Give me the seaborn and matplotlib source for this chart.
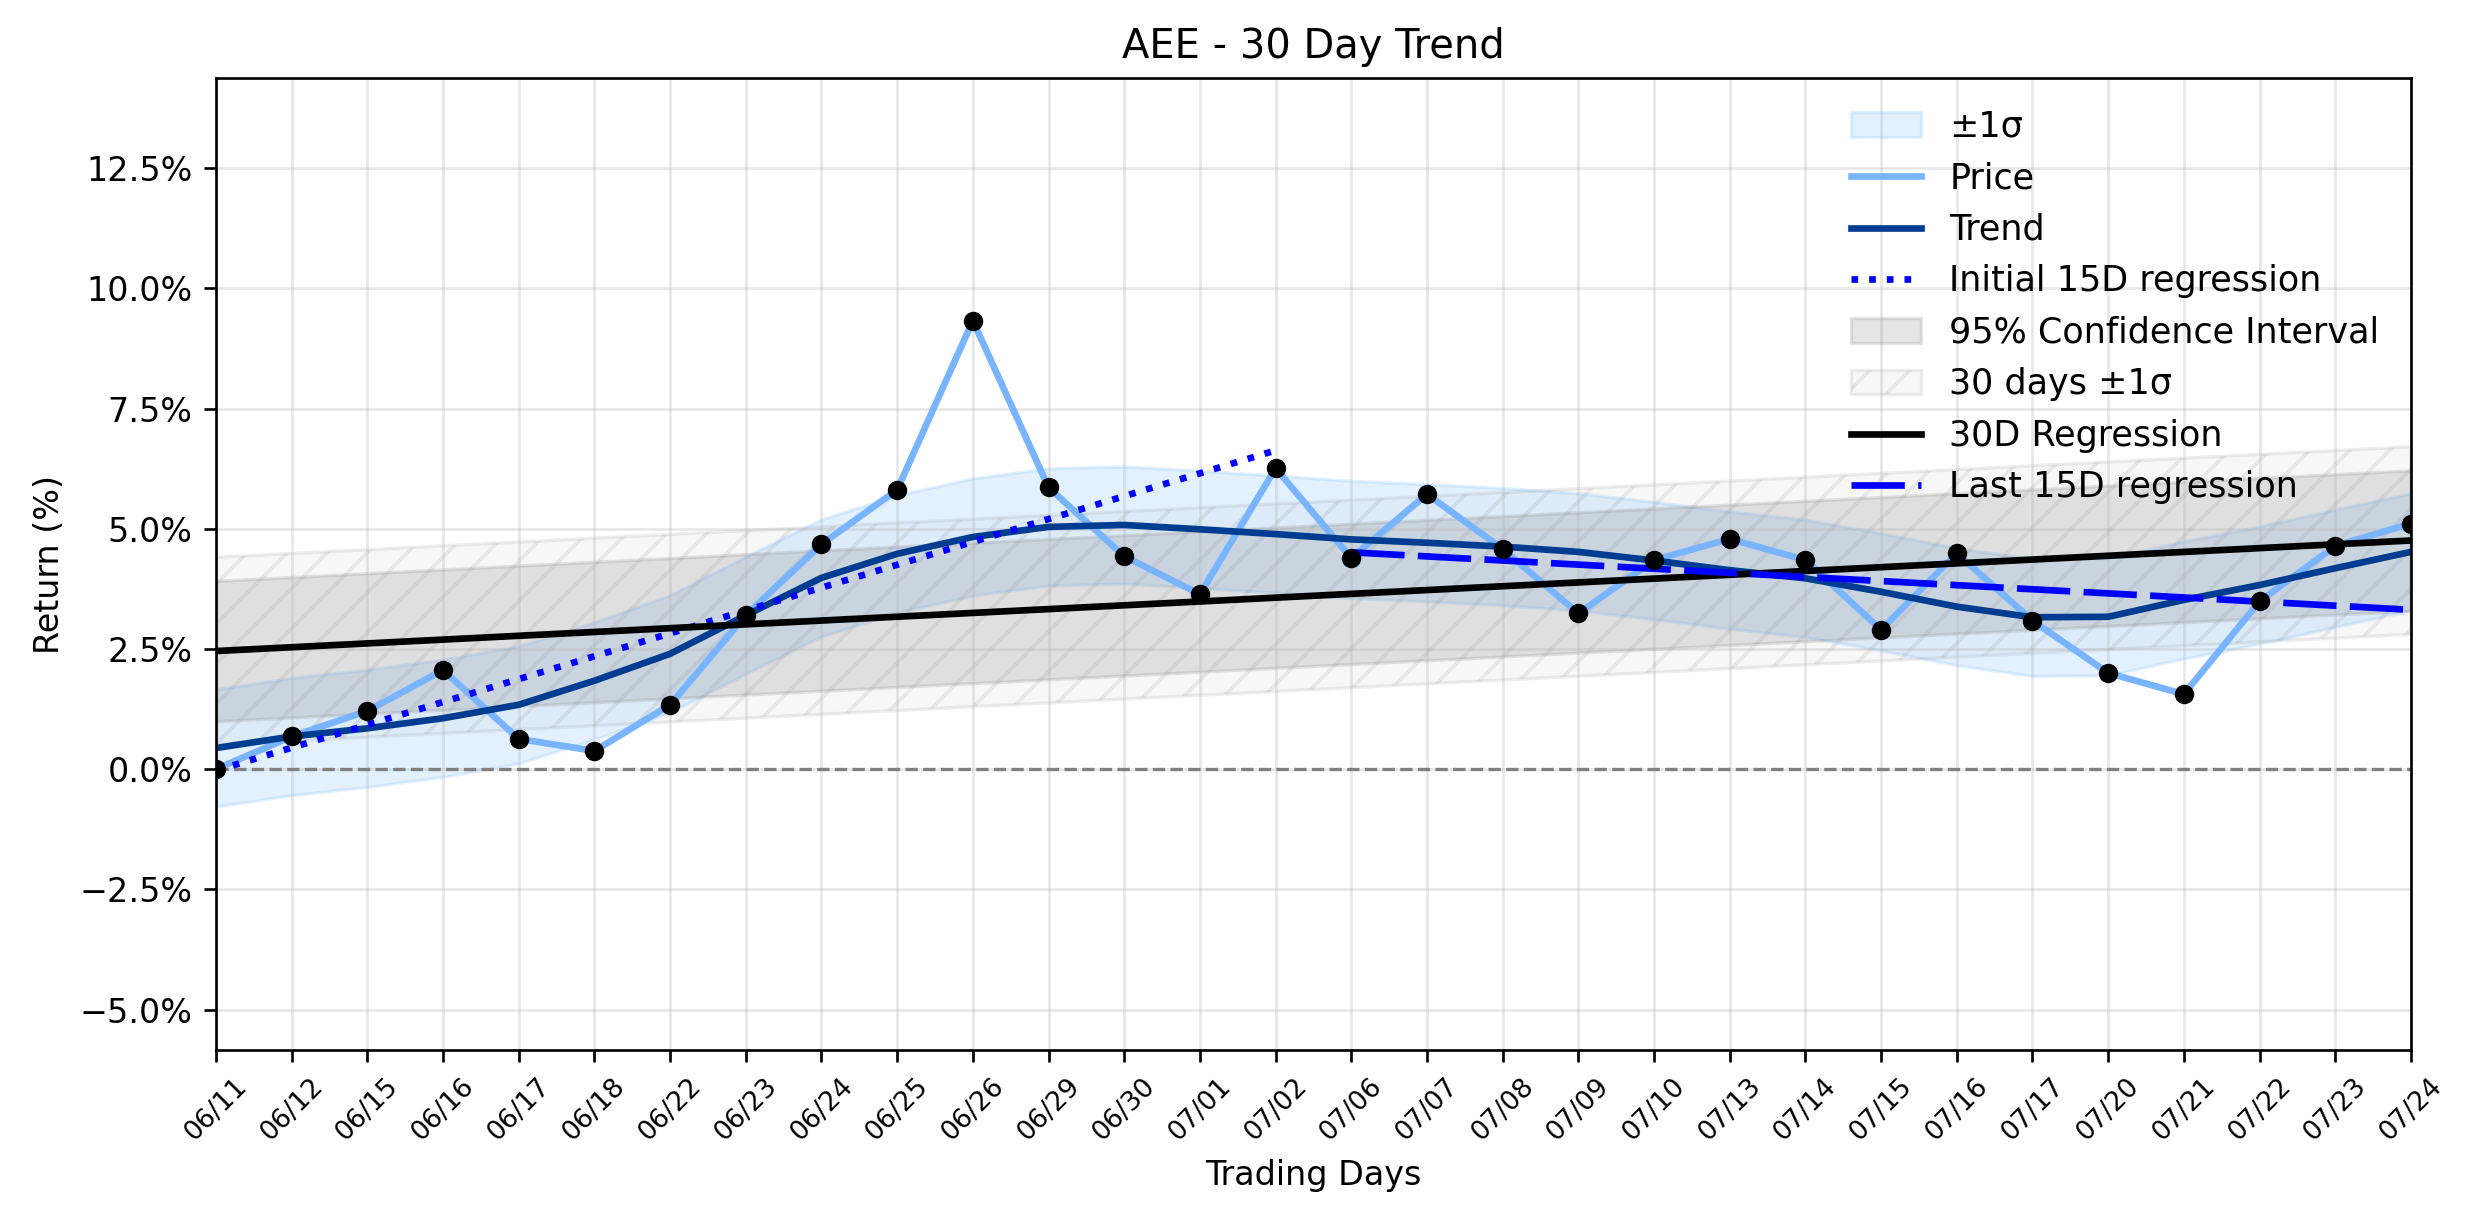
import numpy as np
import pandas as pd
import matplotlib
matplotlib.use("Agg")
import matplotlib.pyplot as plt
import seaborn as sns
from matplotlib.ticker import PercentFormatter, MultipleLocator

# ---------------- data ----------------
dates = ["06/11", "06/12", "06/15", "06/16", "06/17", "06/18", "06/22", "06/23",
         "06/24", "06/25", "06/26", "06/29", "06/30", "07/01", "07/02", "07/06",
         "07/07", "07/08", "07/09", "07/10", "07/13", "07/14", "07/15", "07/16",
         "07/17", "07/20", "07/21", "07/22", "07/23", "07/24"]

price = [0.00, 0.68, 1.21, 2.06, 0.63, 0.38, 1.34, 3.20, 4.68, 5.81,
         9.33, 5.86, 4.43, 3.64, 6.26, 4.39, 5.72, 4.58, 3.24, 4.35,
         4.79, 4.35, 2.90, 4.49, 3.09, 2.00, 1.56, 3.49, 4.64, 5.11]

trend = [0.44, 0.68, 0.85, 1.06, 1.34, 1.84, 2.40, 3.20, 3.98, 4.48,
         4.83, 5.04, 5.08, 4.99, 4.89, 4.78, 4.71, 4.63, 4.52, 4.34,
         4.14, 3.97, 3.69, 3.38, 3.16, 3.17, 3.52, 3.83, 4.18, 4.52]

trend_sigma = 1.22      # half width of the ±1σ band around the trend
sigma_30 = 1.95         # half width of the 30 days ±1σ band
ci_95 = 1.46            # half width of the 95% confidence band

ylim = (-5.84, 14.37)

# ---------------- plot ----------------
df = pd.DataFrame({"day": np.arange(len(dates)), "price": price, "trend": trend})
day = df["day"].to_numpy()
tr = df["trend"].to_numpy()

fig, ax = plt.subplots(figsize=(2474 / 240, 1224 / 240), dpi=240)
fig.subplots_adjust(left=0.0873, right=0.9745, bottom=0.1422, top=0.936)

ax.axhline(0, color="gray", linestyle="--", linewidth=1)

ax.fill_between(day, tr - trend_sigma, tr + trend_sigma, color="#66b2ff",
                alpha=0.18, label="±1σ")
sns.lineplot(data=df, x="day", y="price", color="#78b4ff", linewidth=2,
             label="Price", ax=ax)
sns.lineplot(data=df, x="day", y="trend", color="#003c8f", linewidth=2,
             label="Trend", ax=ax)

first = df.iloc[:15]
c_first = np.polyfit(first["day"], first["price"], 1)
ax.plot(first["day"], np.polyval(c_first, first["day"]), linestyle=":",
        color="blue", linewidth=2, label="Initial 15D regression")

c30 = np.polyfit(day, df["price"], 1)
reg30 = np.polyval(c30, day)
ax.fill_between(day, reg30 - ci_95, reg30 + ci_95, color="gray", alpha=0.2,
                label="95% Confidence Interval")
ax.fill_between(day, reg30 - sigma_30, reg30 + sigma_30,
                facecolor=(0.5, 0.5, 0.5, 0.06), edgecolor=(0.5, 0.5, 0.5, 0.14),
                hatch="//", linewidth=1, label="30 days ±1σ")
ax.plot(day, reg30, color="black", linewidth=2, label="30D Regression")

last = df.iloc[15:]
c_last = np.polyfit(last["day"], last["price"], 1)
ax.plot(last["day"], np.polyval(c_last, last["day"]), linestyle=(0, (8, 2)),
        color="blue", linewidth=2, label="Last 15D regression")

sns.scatterplot(data=df, x="day", y="price", color="black", s=34,
                linewidth=0, zorder=5, legend=False, ax=ax)

ax.set_xlim(0, len(dates) - 1)
ax.set_ylim(*ylim)
ax.set_xticks(day)
ax.set_xticklabels(dates, rotation=45, fontsize=8)
ax.yaxis.set_major_locator(MultipleLocator(2.5))
ax.yaxis.set_major_formatter(PercentFormatter(xmax=100, decimals=1))
ax.tick_params(axis="y", labelsize=10)
ax.grid(True, alpha=0.3)

ax.set_title("AEE - 30 Day Trend", fontsize=12)
ax.set_xlabel("Trading Days", fontsize=10)
ax.set_ylabel("Return (%)", fontsize=10)

ax.legend(loc="upper right", frameon=False, fontsize=10.5)

fig.savefig("out.png", dpi=240)
